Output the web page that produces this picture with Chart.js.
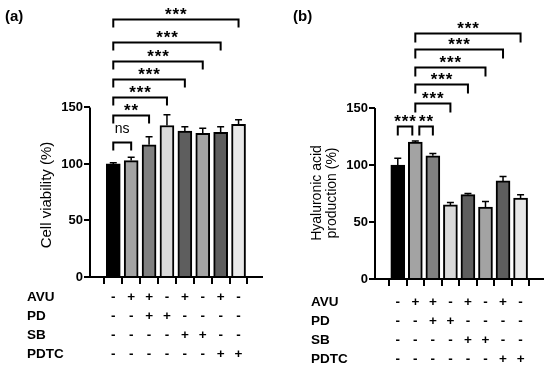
<!DOCTYPE html>
<html>
<head>
<meta charset="utf-8">
<script src="https://cdn.jsdelivr.net/npm/chart.js@4"></script>
<style>
  html, body { margin: 0; padding: 0; background: #fff; }
  .wrap { display: flex; width: 550px; height: 369px; }
  canvas { display: block; }
</style>
</head>
<body>
<div class="wrap">
  <canvas id="chartA" width="275" height="369"></canvas>
  <canvas id="chartB" width="275" height="369"></canvas>
</div>
<script>
// treatment table under the bars
const conditionRows = ["AVU", "PD", "SB", "PDTC"];
const avuSigns  = ["-", "+", "+", "-", "+", "-", "+", "-"];
const pdSigns   = ["-", "-", "+", "+", "-", "-", "-", "-"];
const sbSigns   = ["-", "-", "-", "-", "+", "+", "-", "-"];
const pdtcSigns = ["-", "-", "-", "-", "-", "-", "+", "+"];
const conditionSigns = [avuSigns, pdSigns, sbSigns, pdtcSigns];

// (a) cell viability
const viability    = [100, 103, 117, 134, 129, 127, 128, 135];
const viabilityErr = [1, 3, 7, 9.5, 4, 4.5, 5, 4];
const viabilityPairs = [[0, 1], [0, 2], [0, 3], [0, 4], [0, 5], [0, 6], [0, 7]];
const viabilityStars = ["ns", "**", "***", "***", "***", "***", "***"];

// (b) hyaluronic acid production
const hyaluronic    = [100, 120, 108, 65, 74, 63, 86, 71];
const hyaluronicErr = [6, 1, 2, 2, 1, 5, 4, 3];
const hyaluronicPairs = [[0, 1], [1, 2], [1, 3], [1, 4], [1, 5], [1, 6], [1, 7]];
const hyaluronicStars = ["***", "**", "***", "***", "***", "***", "***"];

const yTicks = [0, 50, 100, 150];

const FONT = '"Liberation Sans", Arial, sans-serif';
const barFills = ["#000000", "#a3a3a3", "#808080", "#d9d9d9", "#5e5e5e", "#a3a3a3", "#5e5e5e", "#e8e8e8"];

const panelDecor = {
  id: "panelDecor",
  afterDatasetsDraw(chart, args, o) {
    const { ctx, scales: { x, y } } = chart;
    ctx.save();
    ctx.strokeStyle = "#000";
    ctx.lineWidth = 1.5;
    o.values.forEach((v, i) => {
      const px = x.getPixelForValue(i);
      const top = y.getPixelForValue(v);
      const hi = y.getPixelForValue(v + o.errors[i]);
      ctx.beginPath();
      ctx.moveTo(px, top);
      ctx.lineTo(px, hi);
      ctx.moveTo(px - 3.5, hi);
      ctx.lineTo(px + 3.5, hi);
      ctx.stroke();
    });
    ctx.restore();
  },
  afterDraw(chart, args, o) {
    const { ctx, chartArea, scales: { x, y } } = chart;
    ctx.save();
    ctx.strokeStyle = "#000";
    ctx.fillStyle = "#000";

    // y axis line stops at 150
    ctx.lineWidth = 2;
    ctx.beginPath();
    ctx.moveTo(chartArea.left, chartArea.bottom + 1);
    ctx.lineTo(chartArea.left, y.getPixelForValue(150));
    ctx.stroke();

    // significance brackets
    o.pairs.forEach((p, k) => {
      const inset = o.insets[k] || [0, 0];
      const x1 = x.getPixelForValue(p[0]) + inset[0];
      const x2 = x.getPixelForValue(p[1]) + inset[1];
      const ly = Math.round(y.getPixelForValue(o.levels[k])) + 0.5;
      ctx.lineWidth = 2;
      ctx.beginPath();
      ctx.moveTo(x1, ly + o.drop);
      ctx.lineTo(x1, ly);
      ctx.lineTo(x2, ly);
      ctx.lineTo(x2, ly + o.drop);
      ctx.stroke();
      const label = o.stars[k];
      const cx = (x1 + x2) / 2;
      ctx.textAlign = "center";
      ctx.textBaseline = "alphabetic";
      if (label === "ns") {
        ctx.font = "14px " + FONT;
        ctx.fillText(label, cx, ly - 10);
      } else {
        ctx.font = "bold 17px " + FONT;
        const n = label.length;
        for (let j = 0; j < n; j++) {
          ctx.fillText("*", cx + (j - (n - 1) / 2) * 7.5, ly);
        }
      }
    });

    // treatment table
    ctx.font = "bold 13.5px " + FONT;
    ctx.textBaseline = "middle";
    conditionRows.forEach((name, r) => {
      const ry = o.rowY[r];
      ctx.textAlign = "left";
      ctx.fillText(name, o.rowLabelX, ry);
      ctx.textAlign = "center";
      conditionSigns[r].forEach((s, i) => {
        ctx.fillText(s, x.getPixelForValue(i), ry);
      });
    });

    // axis title
    ctx.font = o.titleSize + "px " + FONT;
    ctx.textAlign = "center";
    ctx.textBaseline = "middle";
    o.title.forEach((line, k) => {
      ctx.save();
      ctx.translate(o.titleX[k], o.titleY);
      ctx.rotate(-Math.PI / 2);
      ctx.fillText(line, 0, 0);
      ctx.restore();
    });

    // panel letter
    ctx.font = "bold 15px " + FONT;
    ctx.textAlign = "left";
    ctx.fillText(o.letter, o.letterX, 17);
    ctx.restore();
  }
};

function makePanel(id, values, errors, o) {
  return new Chart(document.getElementById(id), {
    type: "bar",
    data: {
      datasets: [{
        data: values.map((v, i) => ({ x: i, y: v })),
        backgroundColor: barFills,
        borderColor: "#000",
        borderWidth: 2,
        barThickness: 14
      }]
    },
    plugins: [panelDecor],
    options: {
      responsive: false,
      animation: false,
      devicePixelRatio: 1,
      layout: { padding: { top: 0, left: 0, right: o.rightPad, bottom: 0 } },
      scales: {
        x: {
          type: "linear",
          min: -0.7,
          max: o.xMax,
          afterBuildTicks: (s) => { s.ticks = values.map((v, i) => ({ value: i })); },
          afterFit: (s) => { s.height = o.xAxisHeight; s.paddingLeft = 0; s.paddingRight = 0; },
          ticks: { display: false },
          grid: { drawOnChartArea: false, drawTicks: true, tickLength: 7, color: "#000", lineWidth: 2 },
          border: { display: true, color: "#000", width: 2 }
        },
        y: {
          min: 0,
          max: o.yMax,
          afterBuildTicks: (s) => { s.ticks = yTicks.map(v => ({ value: v })); },
          afterFit: (s) => { s.width = o.yAxisWidth; s.paddingTop = 0; s.paddingBottom = 0; },
          ticks: { color: "#000", font: { family: FONT, size: 13, weight: "bold" }, padding: 1 },
          grid: { drawOnChartArea: false, drawTicks: true, tickLength: 6, color: "#000", lineWidth: 2 },
          border: { display: false }
        }
      },
      plugins: {
        legend: { display: false },
        tooltip: { enabled: false },
        panelDecor: Object.assign({ values, errors }, o)
      }
    }
  });
}

makePanel("chartA", viability, viabilityErr, {
  pairs: viabilityPairs,
  stars: viabilityStars,
  levels: [119, 143, 159, 175, 191, 208, 228],
  insets: [],
  drop: 8,
  yMax: 245,
  xMax: 7.71,
  xAxisHeight: 92,
  yAxisWidth: 90,
  rightPad: 13,
  rowY: [297, 316, 335, 354],
  rowLabelX: 27,
  title: ["Cell viability (%)"],
  titleX: [47],
  titleY: 195,
  titleSize: 15,
  letter: "(a)",
  letterX: 5
});

makePanel("chartB", hyaluronic, hyaluronicErr, {
  pairs: hyaluronicPairs,
  stars: hyaluronicStars,
  levels: [134, 134, 154, 171, 186, 202, 216],
  insets: [[0, -3], [4, 0]],
  drop: 9,
  yMax: 244.7,
  xMax: 7.68,
  xAxisHeight: 90,
  yAxisWidth: 100,
  rightPad: 7,
  rowY: [302, 321, 340, 359],
  rowLabelX: 36,
  title: ["Hyaluronic acid", "production (%)"],
  titleX: [42, 57],
  titleY: 193,
  titleSize: 14,
  letter: "(b)",
  letterX: 18
});
</script>
</body>
</html>
